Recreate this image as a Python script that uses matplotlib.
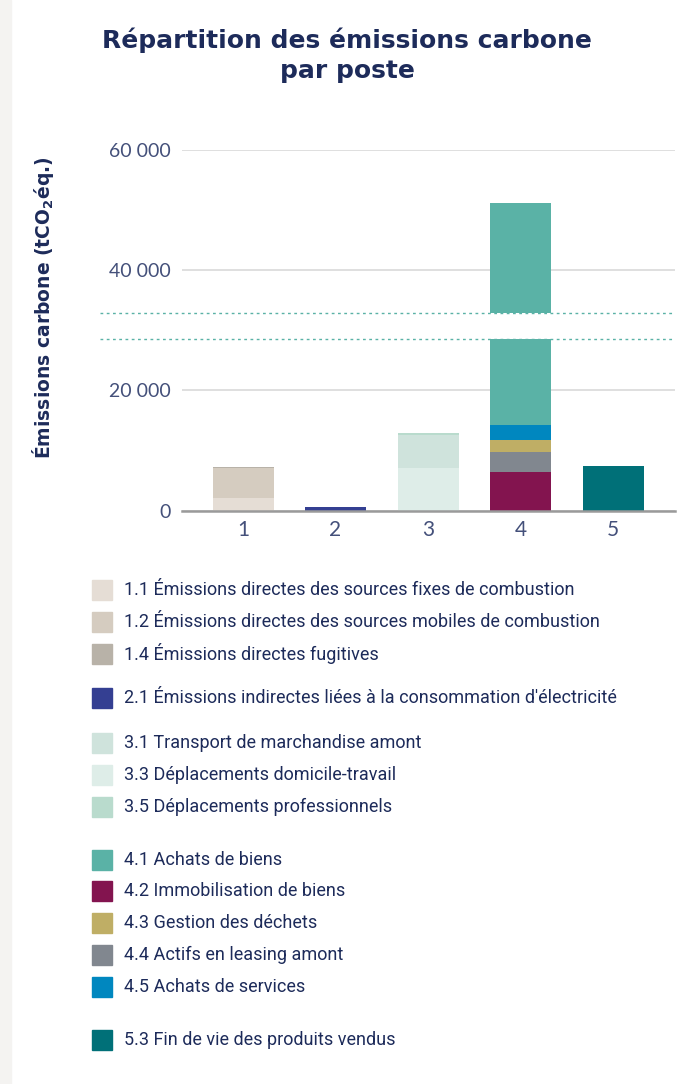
#!/usr/bin/env python3
"""
plot.py
Stacked bars: carbon emissions split by scope item (poste), with a broken axis band.
"""

import matplotlib
matplotlib.use("Agg")
import matplotlib.pyplot as plt
from matplotlib.patches import Rectangle

# ── data ──────────────────────────────────────────────────────────────────────

postes = [1, 2, 3, 4, 5]

labels = [
    "1.1 Émissions directes des sources fixes de combustion",
    "1.2 Émissions directes des sources mobiles de combustion",
    "1.4 Émissions directes fugitives",
    "2.1 Émissions indirectes liées à la consommation d'électricité",
    "3.1 Transport de marchandise amont",
    "3.3 Déplacements domicile-travail",
    "3.5 Déplacements professionnels",
    "4.1 Achats de biens",
    "4.2 Immobilisation de biens",
    "4.3 Gestion des déchets",
    "4.4 Actifs en leasing amont",
    "4.5 Achats de services",
    "5.3 Fin de vie des produits vendus",
]
item_poste = [1, 1, 1, 2, 3, 3, 3, 4, 4, 4, 4, 4, 5]
values = [2150, 5000, 120, 650, 5550, 7050, 300, 36940, 6400, 2000, 3330, 2500, 7400]
colors = ["#e5ddd5", "#d5ccc0", "#b8b2a8", "#343f92",
          "#cfe3dc", "#deede8", "#b9dbcd",
          "#5ab2a6", "#83144f", "#bfae65", "#81878f", "#0087bf",
          "#007078"]

# bottom-to-top stacking order inside each bar (indices into the lists above)
stack_order = [0, 1, 2, 3, 5, 4, 6, 8, 10, 9, 11, 7, 12]

# axis break band (tCO2eq)
break_lo, break_hi = 28540, 32820

yticks = [0, 20000, 40000, 60000]
ytick_labels = ["0", "20 000", "40 000", "60 000"]

NAVY = "#1d2b5a"
TICK = "#44507a"

# legend groups (indices)
legend_groups = [[0, 1, 2], [3], [4, 5, 6], [7, 8, 9, 10, 11], [12]]

# ── figure ────────────────────────────────────────────────────────────────────

W, H = 690, 1084
fig = plt.figure(figsize=(W / 100, H / 100), dpi=100)
fig.patch.set_facecolor("white")
plt.rcParams["mathtext.default"] = "regular"

# light strip on the left edge
fig.add_artist(Rectangle((0, 0), 11 / W, 1, transform=fig.transFigure,
                         color="#f4f3f1", zorder=0))

ax_l, ax_r, ax_t, ax_b = 182, 675, 150, 510.5
ax = fig.add_axes([ax_l / W, 1 - ax_b / H, (ax_r - ax_l) / W, (ax_b - ax_t) / H])

bottoms = {p: 0 for p in postes}
for i in stack_order:
    p = item_poste[i]
    ax.bar(p, values[i], bottom=bottoms[p], width=0.66, color=colors[i],
           linewidth=0, zorder=2)
    bottoms[p] += values[i]

# broken-axis band
ax.axhspan(break_lo, break_hi, color="white", zorder=3, linewidth=0)
for yb in (break_lo, break_hi):
    ax.plot([-0.166, 1], [yb, yb], transform=ax.get_yaxis_transform(),
            color="#5ab2a6", linestyle=(0, (2, 2.5)), linewidth=1,
            clip_on=False, zorder=4)

ax.set_xlim(0.34, 5.67)
ax.set_ylim(0, 60000)
ax.set_yticks(yticks)
ax.set_yticklabels(ytick_labels)
ax.set_xticks(postes)
ax.set_xticklabels([str(p) for p in postes])

for t in ax.get_yticklabels():
    t.set_fontfamily("Lato")
    t.set_fontsize(14)
    t.set_color(TICK)
for t in ax.get_xticklabels():
    t.set_fontfamily("Lato")
    t.set_fontsize(15)
    t.set_color(TICK)

ax.tick_params(axis="both", length=0)
ax.tick_params(axis="y", pad=8)
ax.tick_params(axis="x", pad=7)
ax.yaxis.grid(True, color="#d9d9d9", linewidth=1.2, zorder=0)
ax.set_axisbelow(True)
for s in ("top", "right", "left"):
    ax.spines[s].set_visible(False)
ax.spines["bottom"].set_color("#9a9a9a")
ax.spines["bottom"].set_linewidth(1.8)
ax.spines["bottom"].set_zorder(5)

# title and y label
fig.text(347 / W, 1 - 40 / H, "Répartition des émissions carbone",
         ha="center", va="center", fontsize=18, fontweight="bold",
         color=NAVY, family="DejaVu Sans")
fig.text(347 / W, 1 - 71 / H, "par poste",
         ha="center", va="center", fontsize=18, fontweight="bold",
         color=NAVY, family="DejaVu Sans")
fig.text(43 / W, 1 - 308 / H, "Émissions carbone (tCO$_2$éq.)",
         ha="center", va="center", rotation=90, fontsize=13.5,
         fontweight="bold", color=NAVY, family="DejaVu Sans")

# ── legend ────────────────────────────────────────────────────────────────────

y = 590
for g, group in enumerate(legend_groups):
    for i in group:
        fig.add_artist(Rectangle((92 / W, 1 - (y + 10) / H), 20 / W, 20 / H,
                                 transform=fig.transFigure, color=colors[i]))
        fig.text(124 / W, 1 - y / H, labels[i], ha="left", va="center",
                 fontsize=13, color=NAVY, family="Roboto")
        y += 31.8
    y += 13 if g < 2 else 21

fig.savefig("out.png", dpi=100)
